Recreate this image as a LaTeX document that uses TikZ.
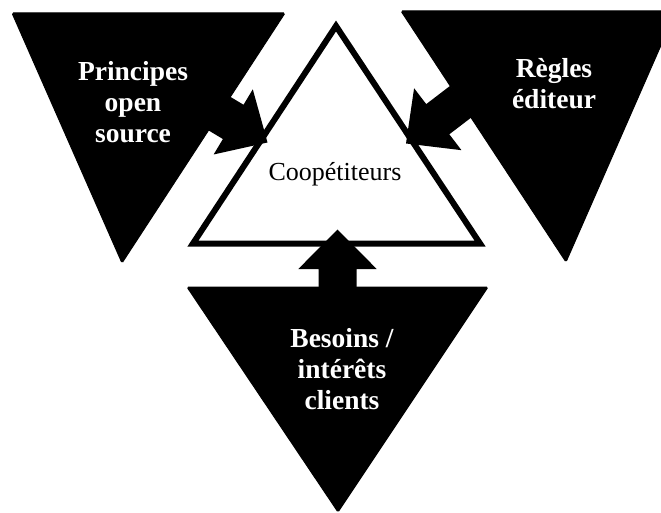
\documentclass[tikz,border=0pt]{standalone}
\usepackage{fontspec}
\setmainfont{Liberation Serif}
\begin{document}
\begin{tikzpicture}[x=1pt,y=-1pt,
  blacktri/.style={fill=black,draw=black,line width=1pt,rounded corners=1.5pt},
  centertri/.style={fill=white,draw=black,line width=6pt,line join=miter},
  blockarrow/.style={fill=black},
  bigbold/.style={text=white,align=center,font=\fontsize{27.5}{31}\selectfont\bfseries},
  centerlabel/.style={text=black,font=\fontsize{26}{30}\selectfont}]
\useasboundingbox (0,0) rectangle (661,513);
\clip (0,0) rectangle (661,513);
% outer triangles
\path[blacktri] (12,13) -- (285,13) -- (122,263) -- cycle;
\path[blacktri] (401,11) -- (676,11) -- (566,262) -- cycle;
\path[blacktri] (187,287) -- (488,287) -- (338,512) -- cycle;
% centre triangle
\path[centertri] (336,26) -- (480,243.5) -- (193,243.5) -- cycle;
% block arrows (tip at origin, pointing along +x before rotation)
\begin{scope}[shift={(267.5,142.5)},rotate=-31]
  \fill[blockarrow] (0,0) -- (-40,38) -- (-40,20) -- (-70,20) -- (-70,-20) -- (-40,-20) -- (-40,-38) -- cycle;
\end{scope}
\begin{scope}[shift={(406,143.5)},rotate=-142.6]
  \fill[blockarrow] (0,0) -- (-40,39) -- (-40,19) -- (-70,19) -- (-70,-19) -- (-40,-19) -- (-40,-39) -- cycle;
\end{scope}
\begin{scope}[shift={(337.5,229.5)},rotate=90]
  \fill[blockarrow] (0,0) -- (-39.5,39.2) -- (-39.5,19) -- (-70,19) -- (-70,-19) -- (-39.5,-19) -- (-39.5,-39.2) -- cycle;
\end{scope}
% labels
\node[bigbold] (open) at (133,102) {Principes\\open\\source};
\node[bigbold] (editeur) at (554,84) {Règles\\éditeur};
\node[bigbold] (clients) at (342,369) {Besoins /\\intérêts\\clients};
\node[centerlabel] (coop) at (335,174) {Coopétiteurs};
\end{tikzpicture}
\end{document}
